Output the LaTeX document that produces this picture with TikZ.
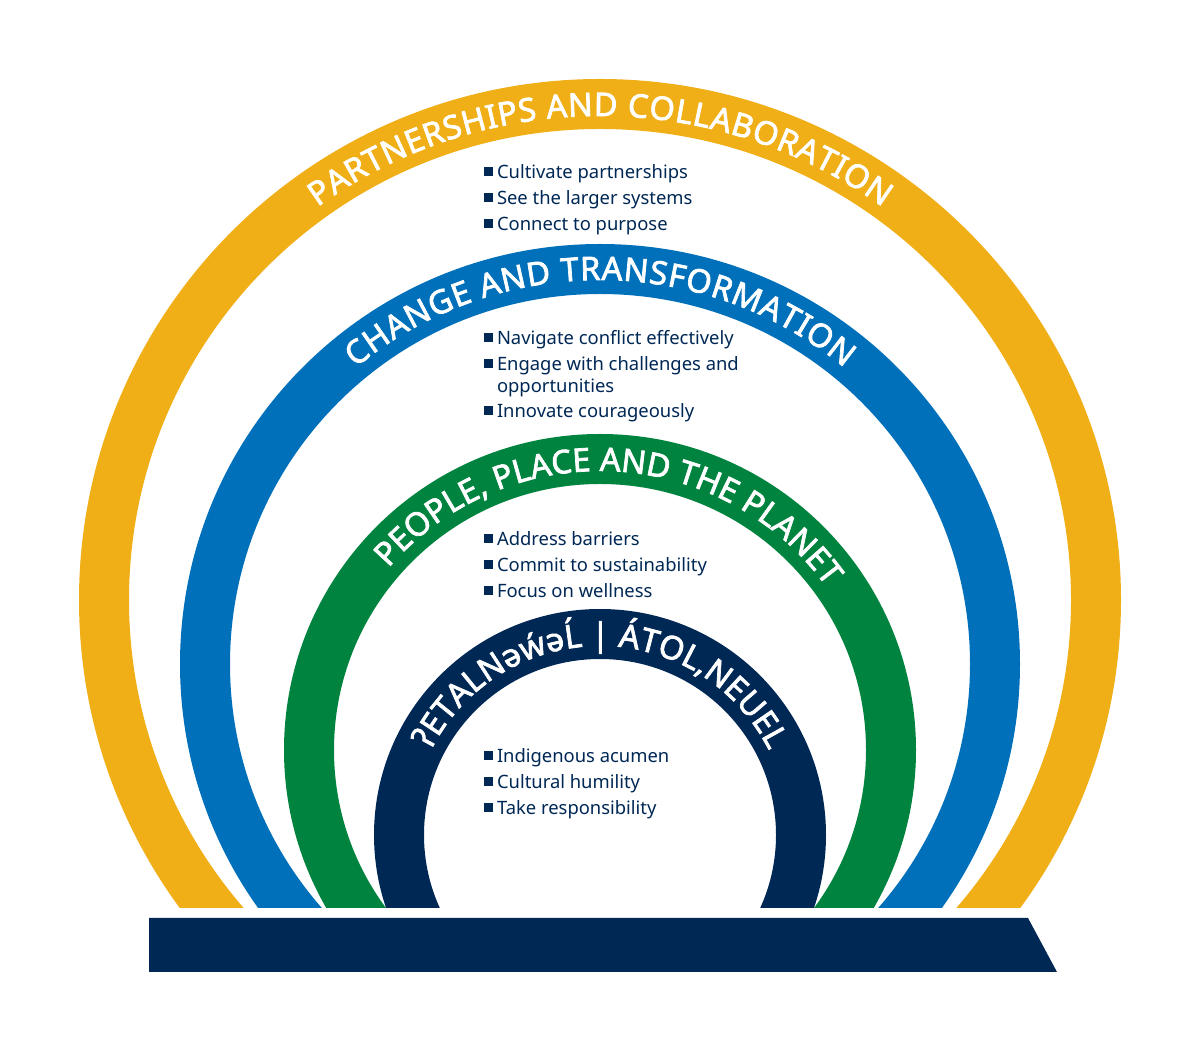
\documentclass[tikz,border=0pt]{standalone}
\usepackage{fontspec}
\setmainfont{Noto Sans}
\newfontfamily\arcfamily{Noto Sans}[FakeBold=2.2]
\usetikzlibrary{decorations.text}
\definecolor{ringY}{RGB}{240,175,22}
\definecolor{ringB}{RGB}{0,112,186}
\definecolor{ringG}{RGB}{0,131,62}
\definecolor{navy}{RGB}{0,40,85}
\newcommand\arcfnt{\arcfamily\fontsize{32.5}{38}\selectfont}
\newcommand\listfnt{\fontsize{18.4}{22}\selectfont}
\newcommand\sqbul{\rule[3pt]{8.5pt}{8.5pt}\hspace{4.5pt}}
\begin{document}
\begin{tikzpicture}[x=1pt,y=1pt,
  listitem/.style={anchor=base west, inner sep=0pt, outer sep=0pt, text=navy, font=\listfnt},
  arctext/.style={decorate, decoration={text along path, text color=white, text align={fit to path}, text={|\arcfnt|#1}}}]
\useasboundingbox (0,0) rectangle (1200,1050);
\fill[white] (0,0) rectangle (1200,1050);
% rings
\begin{scope}
  \clip (0,142) rectangle (1200,1050);
  \fill[ringY, even odd rule] (600,450) circle[radius=521] (600,450) circle[radius=471];
  \fill[ringB, even odd rule] (600,386) circle[radius=420] (600,386) circle[radius=370];
  \fill[ringG, even odd rule] (600,300) circle[radius=316] (600,300) circle[radius=266];
  \fill[navy, even odd rule] (600,215) circle[radius=226] (600,215) circle[radius=176];
\end{scope}
% base bar
\fill[navy] (149,132) -- (1028,132) -- (1057,78) -- (149,78) -- cycle;
% arc titles
\path[arctext={PARTNERSHIPS AND COLLABORATION}] ([shift={(125.7:484)}]600,450) arc[start angle=125.7, end angle=54.3, radius=484];
\path[arctext={CHANGE AND TRANSFORMATION}] ([shift={(129.5:384)}]600,386) arc[start angle=129.5, end angle=50.5, radius=384];
\path[arctext={PEOPLE, PLACE AND THE PLANET}] ([shift={(139.3:279)}]600,300) arc[start angle=139.3, end angle=37, radius=279];
\path[arctext={ʔETALNəẃəĹ {\textbar} ÁTOL,NEUEL}] ([shift={(153.3:189)}]600,215) arc[start angle=153.3, end angle=27, radius=189];
% lists
\node[listitem] (y1) at (484,871) {\sqbul Cultivate partnerships};
\node[listitem] (y2) at (484,845) {\sqbul See the larger systems};
\node[listitem] (y3) at (484,819) {\sqbul Connect to purpose};
\node[listitem] (b1) at (484,705) {\sqbul Navigate conflict effectively};
\node[listitem] (b2) at (484,679) {\sqbul Engage with challenges and};
\node[listitem] (b2b) at (497,657) {opportunities};
\node[listitem] (b3) at (484,632) {\sqbul Innovate courageously};
\node[listitem] (g1) at (484,504) {\sqbul Address barriers};
\node[listitem] (g2) at (484,478) {\sqbul Commit to sustainability};
\node[listitem] (g3) at (484,452) {\sqbul Focus on wellness};
\node[listitem] (n1) at (484,287) {\sqbul Indigenous acumen};
\node[listitem] (n2) at (484,261) {\sqbul Cultural humility};
\node[listitem] (n3) at (484,235) {\sqbul Take responsibility};
\end{tikzpicture}
\end{document}
